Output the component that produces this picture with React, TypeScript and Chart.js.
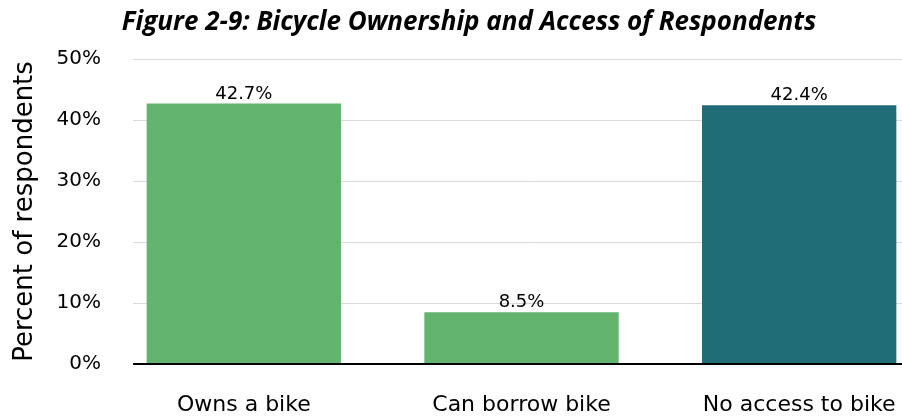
import React, { useEffect, useRef } from "react";
import { Chart, registerables } from "chart.js";

Chart.register(...registerables);

const TITLE = "Figure 2-9: Bicycle Ownership and Access of Respondents";
const Y_TITLE = "Percent of respondents";
const CATEGORIES = ["Owns a bike", "Can borrow bike", "No access to bike"];
const VALUES = [42.7, 8.5, 42.4];
const BAR_COLORS = ["#63B46E", "#63B46E", "#206C77"];
const Y_TICKS = [0, 10, 20, 30, 40, 50];

const AXIS_FONT = "'DejaVu Sans', sans-serif";

const gridPlugin = {
  id: "customGrid",
  beforeDatasetsDraw(chart: any) {
    const { ctx, chartArea, scales } = chart;
    const y = scales.y;
    const left = 133;
    ctx.save();
    ctx.strokeStyle = "#d9d9d9";
    ctx.lineWidth = 1;
    Y_TICKS.forEach((t) => {
      if (t === 0) return;
      const py = Math.round(y.getPixelForValue(t)) + 0.5;
      ctx.beginPath();
      ctx.moveTo(left, py);
      ctx.lineTo(chartArea.right, py);
      ctx.stroke();
    });
    ctx.restore();
  },
  afterDatasetsDraw(chart: any) {
    const { ctx, chartArea, scales } = chart;
    const y = scales.y;
    const py = y.getPixelForValue(0);
    ctx.save();
    ctx.strokeStyle = "#000000";
    ctx.lineWidth = 2;
    ctx.beginPath();
    ctx.moveTo(133, py);
    ctx.lineTo(chartArea.right, py);
    ctx.stroke();
    // data labels
    const meta = chart.getDatasetMeta(0);
    ctx.fillStyle = "#000000";
    ctx.font = `18px ${AXIS_FONT}`;
    ctx.textAlign = "center";
    ctx.textBaseline = "alphabetic";
    meta.data.forEach((bar: any, i: number) => {
      ctx.fillText(VALUES[i].toFixed(1) + "%", bar.x, bar.y - 5);
    });
    ctx.restore();
  },
};

export default function App() {
  const ref = useRef<HTMLCanvasElement>(null);
  useEffect(() => {
    if (!ref.current) return;
    const chart = new Chart(ref.current, {
      type: "bar",
      data: {
        labels: CATEGORIES,
        datasets: [
          {
            data: VALUES,
            backgroundColor: BAR_COLORS,
            borderWidth: 0,
            categoryPercentage: 1,
            barPercentage: 0.7,
          },
        ],
      },
      options: {
        responsive: false,
        animation: false,
        layout: { padding: { left: 0, right: 0, top: 0, bottom: 0 } },
        plugins: {
          legend: { display: false },
          tooltip: { enabled: false },
          title: {
            display: true,
            text: TITLE,
            color: "#000000",
            font: { family: "'Open Sans', sans-serif", size: 26, weight: "bold", style: "italic", lineHeight: 1.2 },
            padding: { top: 7, bottom: 20.8 },
            align: "center",
          } as any,
        },
        scales: {
          x: {
            grid: { display: false, drawTicks: false },
            border: { display: false },
            ticks: {
              color: "#000000",
              font: { family: AXIS_FONT, size: 22 },
              padding: 28,
              maxRotation: 0,
            },
            afterFit(scale: any) {
              scale.height = 55;
            },
          },
          y: {
            min: 0,
            max: 50,
            grid: { display: false, drawTicks: false },
            border: { display: false },
            afterBuildTicks(scale: any) {
              scale.ticks = Y_TICKS.map((v) => ({ value: v }));
            },
            ticks: {
              color: "#000000",
              font: { family: AXIS_FONT, size: 20 },
              padding: 4,
              callback: (v: any) => v + "%",
            },
            title: {
              display: true,
              text: Y_TITLE,
              color: "#000000",
              font: { family: AXIS_FONT, size: 26 },
              padding: { top: 10, bottom: 0 },
            },
            afterFit(scale: any) {
              scale.width = 105;
            },
          },
        },
      },
      plugins: [gridPlugin],
    });
    return () => chart.destroy();
  }, []);
  return (
    <div style={{ position: "fixed", left: 0, top: 0, width: 902, height: 419, overflow: "hidden", background: "#fff" }}>
      <canvas ref={ref} width={938} height={419} style={{ width: 938, height: 419, display: "block" }} />
    </div>
  );
}
